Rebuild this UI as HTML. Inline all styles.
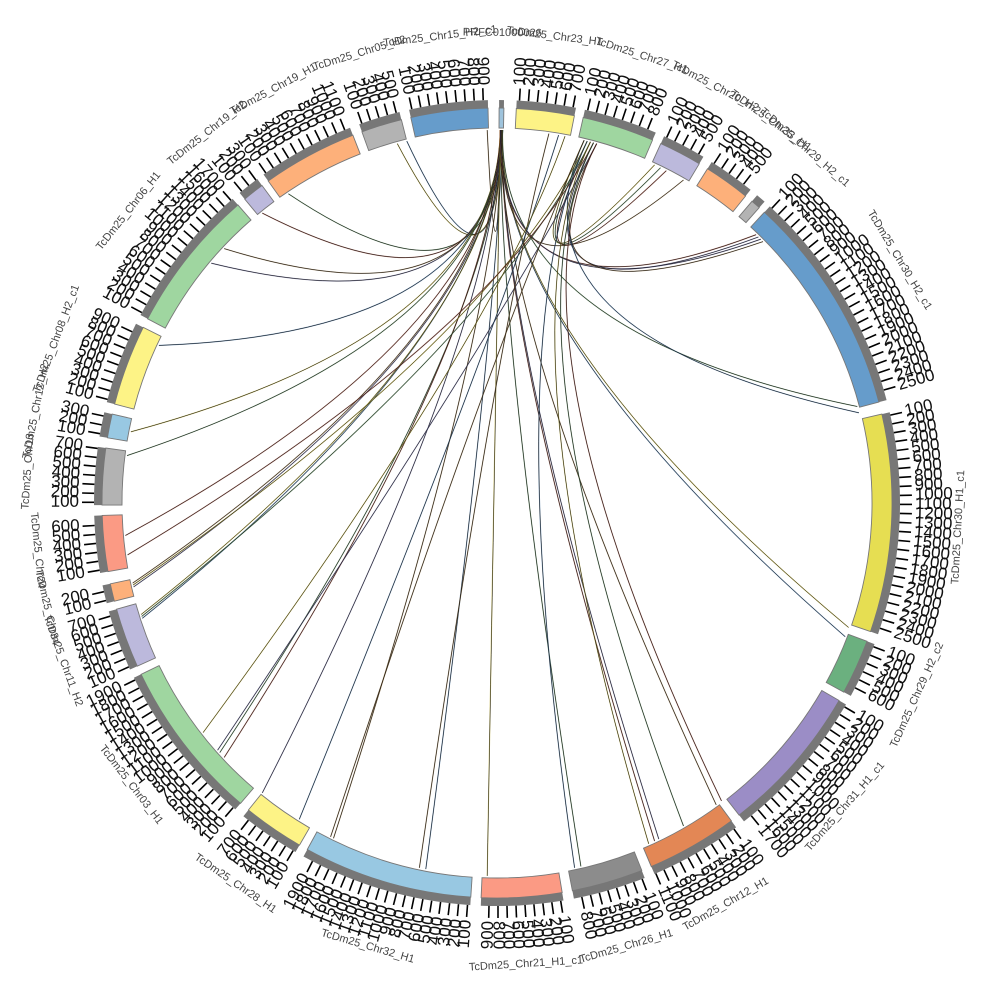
<!DOCTYPE html>
<html><head><meta charset="utf-8"><style>
html,body{margin:0;padding:0;background:#fff;width:1000px;height:1000px;overflow:hidden}
svg{display:block}
</style></head><body>
<svg id="s" width="1000" height="1000" viewBox="0 0 1000 1000" xmlns="http://www.w3.org/2000/svg"></svg>
<script>
var CX=497,CY=503,R0=375,R1=395,R2=403;
var segs=[
["PRFC01000026",0.3,1.0,"#9ec3dc"],
["TcDm25_Chr23_H1",2.8,11.3,"#fdf386"],
["TcDm25_Chr27_H1",12.6,23.2,"#9fd6a0"],
["TcDm25_Chr20_H2",24.5,30.8,"#bcb9dc"],
["TcDm25_Chr33_H1",32.2,39.0,"#fdb07a"],
["TcDm25_Chr29_H2_c1",40.2,41.6,"#b3b3b3"],
["TcDm25_Chr30_H2_c1",42.6,75.2,"#669ccb"],
["TcDm25_Chr30_H1_c1",77.0,109.0,"#e6de52"],
["TcDm25_Chr29_H2_c2",110.5,118.6,"#6bb07f"],
["TcDm25_Chr31_H1_c1",120.0,142.2,"#9b8dc6"],
["TcDm25_Chr12_H1",143.6,157.0,"#e38755"],
["TcDm25_Chr26_H1",158.5,169.0,"#8c8c8c"],
["TcDm25_Chr21_H1_c1",170.5,182.3,"#fb9a84"],
["TcDm25_Chr32_H1",183.8,208.7,"#98c8e2"],
["TcDm25_Chr28_H1",210.0,219.0,"#fdf386"],
["TcDm25_Chr03_H1",220.5,244.3,"#9fd6a0"],
["TcDm25_Chr11_H2",245.6,254.4,"#bcb9dc"],
["TcDm25_Chr34",255.6,258.2,"#fdb07a"],
["TcDm25_Chr24",260.0,268.2,"#fb9a84"],
["TcDm25_Chr13",269.7,278.0,"#b3b3b3"],
["TcDm25_Chr12_H2",279.5,283.0,"#98c8e2"],
["TcDm25_Chr08_H2_c1",284.5,296.4,"#fdf386"],
["TcDm25_Chr06_H1",297.8,319.0,"#9fd6a0"],
["TcDm25_Chr19_H2",320.3,323.5,"#bcb9dc"],
["TcDm25_Chr19_H1",324.6,338.6,"#fdb07a"],
["TcDm25_Chr05_H2",340.0,346.0,"#b3b3b3"],
["TcDm25_Chr15_H2_c1",347.4,358.7,"#669ccb"]
];
function P(r,t){var a=t*Math.PI/180;return [CX+r*Math.sin(a),CY-r*Math.cos(a)];}
function f(n){return n.toFixed(1);}
var o=[];
function sector(r0,r1,a,b,fill,stroke){
 var p1=P(r1,a),p2=P(r1,b),p3=P(r0,b),p4=P(r0,a);var l=(b-a)>180?1:0;
 o.push('<path d="M'+f(p1[0])+' '+f(p1[1])+' A'+r1+' '+r1+' 0 '+l+' 1 '+f(p2[0])+' '+f(p2[1])+' L'+f(p3[0])+' '+f(p3[1])+' A'+r0+' '+r0+' 0 '+l+' 0 '+f(p4[0])+' '+f(p4[1])+'Z" fill="'+fill+'"'+(stroke?' stroke="'+stroke+'" stroke-width="0.9"':'')+'/>');
}
var cols=["#7a5a2a","#3a6a9a","#b8a830","#4a7a4a","#8a3a2a","#5a5a8a"];
function link(a,b,c,w){
 var p=P(R0-2,a),q=P(R0-2,b);
 var m=[CX,CY-170];
 var d='M'+f(p[0])+' '+f(p[1])+' Q'+m[0]+' '+m[1]+' '+f(q[0])+' '+f(q[1]);
 o.push('<path d="'+d+'" fill="none" stroke="'+c+'" stroke-width="'+(w||1.1)+'" opacity="0.7"/>');
 o.push('<path d="'+d+'" fill="none" stroke="#111" stroke-width="0.5"/>');
}
var t1=[358.5,346,344.5,326,321,310,313,295,281,277.3,265,257,257.6,252,252.6,228,227,219,206,191,181.5,167,155,154.3,144,111,109.5,75,44,45,30];
t1.forEach(function(t,i){link(0.5+(i%4)*0.12,t,cols[i%cols.length]);});
var t2=[25,26,27,44.5,45.5,76,257.3,252.3,262,228.5,206.5,168,156,150,143];
t2.forEach(function(t,i){link(13.5+(i%5)*0.5,t,cols[(i+2)%cols.length]);});
var t3=[8,9.5,10.5];
t3.forEach(function(t,i){link(t,192+i*20,cols[i]);});
segs.forEach(function(s){
 var a=s[1],b=s[2];
 sector(R0,R1,a,b,s[3],"#777");
 sector(R1,R2,a,b,"#777");
 var mid=(a+b)/2;
 if(b-a>2){
  var k=1;
  for(var t=a+0.4;t<=b-0.2;t+=1.28){
   var p=P(R2,t),q=P(R2+12,t);
   o.push('<line x1="'+f(p[0])+'" y1="'+f(p[1])+'" x2="'+f(q[0])+'" y2="'+f(q[1])+'" stroke="#000" stroke-width="1.6"/>');
   var L=P(R2+15,t);var right=(t%360)<180;
   var rot=right?(t-90):(t+90);
   o.push('<text x="'+f(L[0])+'" y="'+f(L[1])+'" transform="rotate('+f(rot)+' '+f(L[0])+' '+f(L[1])+')" text-anchor="'+(right?'start':'end')+'" dominant-baseline="middle" font-size="17" fill="#111" font-family="Liberation Sans, sans-serif">'+(k*100)+'</text>');
   k++;
  }
 }
 var m=((mid%360)+360)%360;var top=(m<90||m>270);
 var rr=top?470:462;
 var N=P(rr,mid);var rot2=top?mid:mid-180;
 o.push('<text x="'+f(N[0])+'" y="'+f(N[1])+'" transform="rotate('+f(rot2)+' '+f(N[0])+' '+f(N[1])+')" text-anchor="middle" dominant-baseline="middle" font-size="11" fill="#444" font-family="Liberation Sans, sans-serif">'+s[0]+'</text>');
});
document.getElementById('s').innerHTML=o.join('');
</script>
</body></html>
